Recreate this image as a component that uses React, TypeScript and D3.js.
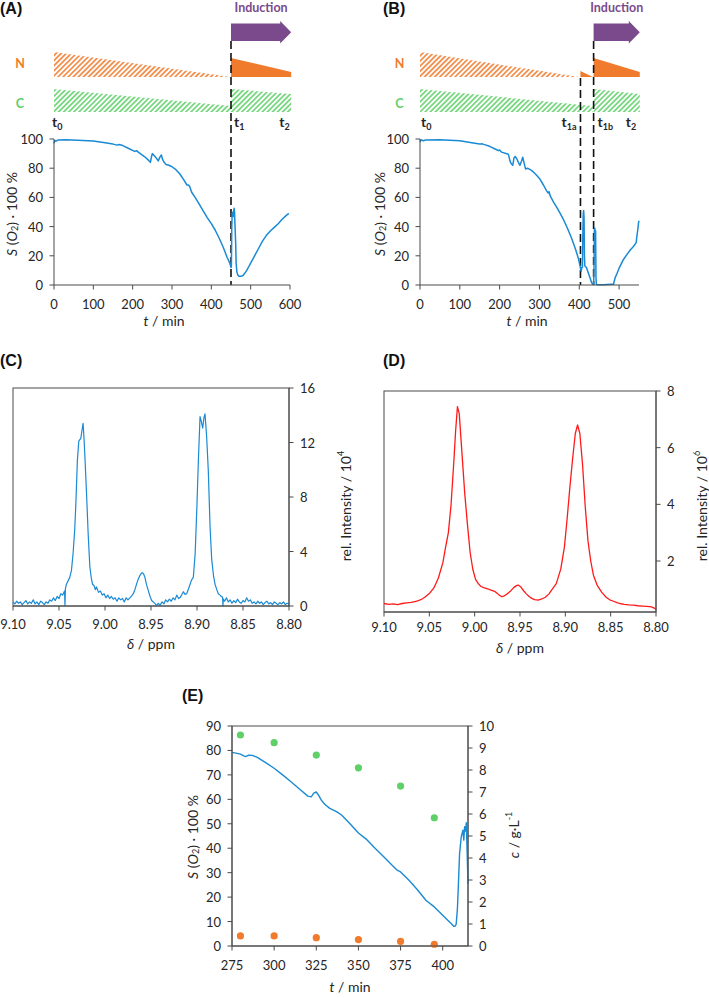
import React from 'react';
import * as d3 from 'd3';

const FONT = 'Lato, "Open Sans", "DejaVu Sans", sans-serif';
const HEAD = '"Liberation Sans", Arial, sans-serif';
const BLUE = '#1a8ad4';
const RED = '#ff1a1a';
const ORANGE = '#f07b2c';
const GREEN = '#5fcf68';
const PURPLE = '#7b4a8c';
const AXIS = '#4a4a4a';
const TEXT = '#262626';

// ---------- tick labels ----------
const timeTicksA = [0, 100, 200, 300, 400, 500, 600];
const timeTicksB = [0, 100, 200, 300, 400, 500];
const satTicks = [0, 20, 40, 60, 80, 100];
const ppmTicks = [9.1, 9.05, 9.0, 8.95, 8.9, 8.85, 8.8];
const intensityTicksC = [0, 4, 8, 12, 16];
const intensityTicksD = [2, 4, 6, 8];
const timeTicksE = [275, 300, 325, 350, 375, 400];
const satTicksE = [0, 10, 20, 30, 40, 50, 60, 70, 80, 90];
const concTicksE = [0, 1, 2, 3, 4, 5, 6, 7, 8, 9, 10];

// ---------- schematic nutrient levels (relative) ----------
const nHatchA: [number, number][] = [[0, 1], [450, 0]];
const nSolidA: [number, number][] = [[450, 0.76], [603, 0.2]];
const cHatchA1: [number, number][] = [[0, 1], [450, 0.26]];
const cHatchA2: [number, number][] = [[450, 1], [603, 0.78]];
const inductionA = [450, 603];

const nHatchB: [number, number][] = [[0, 1], [400, 0]];
const nPulseB: [number, number][] = [[403, 0.24], [434, 0]];
const nSolidB: [number, number][] = [[436, 0.76], [552, 0.2]];
const cHatchB1: [number, number][] = [[0, 1], [434, 0.26]];
const cHatchB2: [number, number][] = [[436, 1], [552, 0.78]];
const inductionB = [436, 552];
const t1aB = 403;

// ---------- (A) dissolved oxygen ----------
const curveA: [number, number][] = [
  [0, 97], [2, 99], [5, 98.5], [10, 99.3], [30, 99.5], [60, 99.2], [100, 98.6], [130, 97.5],
  [150, 96.5], [160, 95.8], [165, 96.2], [175, 95.5], [190, 93.5], [205, 91.5], [210, 92],
  [215, 90.8], [230, 88], [240, 85.5], [245, 84], [248, 88], [250, 90], [255, 88.5], [260, 87],
  [265, 85], [270, 88], [273, 89], [276, 86], [280, 84], [285, 82.5], [292, 82], [300, 81],
  [310, 79], [320, 76], [330, 72], [338, 68.5], [342, 68.5], [345, 67.5], [350, 63.5], [360, 59.5],
  [370, 55], [380, 50.5], [390, 46], [400, 42], [410, 37.5], [420, 32], [430, 26], [440, 19],
  [447, 15], [450, 12], [451, 13], [452, 40], [453, 49], [455, 50], [456, 47], [457, 51],
  [458, 52.5], [459, 50], [460, 42], [462, 28], [463, 15], [465, 9], [467, 7], [470, 6],
  [475, 6], [480, 6.3], [485, 8], [490, 10], [495, 12.5], [500, 15], [510, 20], [520, 25],
  [530, 30], [540, 34], [550, 37], [560, 39.5], [570, 42], [580, 45], [590, 47.5], [597, 49],
];

// ---------- (B) dissolved oxygen ----------
const curveB: [number, number][] = [
  [0, 98], [2, 99.5], [8, 98.8], [15, 99.3], [50, 99.5], [100, 98.8], [130, 97.5], [150, 96.5],
  [155, 96.8], [160, 96.3], [175, 95], [190, 93], [197, 92], [200, 92.5], [205, 91], [222, 89.5],
  [226, 85], [229, 83], [233, 82], [236, 87], [239, 88], [243, 86.5], [247, 84], [251, 82],
  [255, 85], [258, 87.5], [261, 84], [265, 79.5], [270, 80], [280, 78.5], [290, 76], [300, 73],
  [310, 68.5], [318, 64.5], [322, 63], [324, 64], [327, 61], [335, 57], [345, 52.5], [352, 49],
  [360, 45], [370, 39], [380, 32.5], [390, 25], [398, 18], [402, 13], [404, 10], [405, 9.5],
  [406, 12], [408, 12], [409, 35], [410, 49], [411, 51], [412, 46], [413, 20], [414, 13],
  [418, 12], [423, 8], [427, 5], [431, 1.5], [434, 0.5], [436, 0.3], [437, 10], [438, 38],
  [439, 39], [440, 36], [441, 37], [442, 5], [443, 0.3], [450, 0.2], [460, 0.1], [470, 0.3],
  [480, 0.5], [486, 0.5], [490, 5], [495, 8], [500, 11.5], [511, 17.5], [520, 21], [528, 24],
  [535, 26], [543, 29], [544, 32], [547, 38], [549, 43], [550, 44],
];

// ---------- (C) spectrum ----------
const spectrumC: [number, number][] = [
  [9.1, 0.3], [9.098, 0.15], [9.096, 0.35], [9.094, 0.2], [9.092, 0.3], [9.09, 0.1], [9.088, 0.25],
  [9.086, 0.4], [9.084, 0.15], [9.082, 0.3], [9.08, 0.2], [9.078, 0.45], [9.076, 0.15], [9.074, 0.3],
  [9.072, 0.1], [9.07, 0.35], [9.068, 0.25], [9.066, 0.1], [9.064, 0.3], [9.062, 0.2], [9.06, 0.45],
  [9.058, 0.35], [9.056, 0.6], [9.054, 0.4], [9.052, 0.7], [9.05, 0.55], [9.048, 0.9], [9.046, 0.8],
  [9.044, 1.1], [9.0435, 0], [9.043, 1.3], [9.0419, 1.6], [9.0383, 2.1], [9.0365, 2.6], [9.0347, 3.85],
  [9.033, 5.5], [9.0318, 7.3], [9.03, 10.7], [9.0285, 12.1], [9.0263, 12.3], [9.025, 12.9],
  [9.0238, 13.4], [9.0229, 12.4], [9.022, 11.2], [9.0201, 8.3], [9.0183, 5.3], [9.0165, 2.9],
  [9.015, 2.1], [9.0136, 1.6], [9.012, 1.5], [9.0105, 1.2], [9.0093, 1.4], [9.007, 1.0], [9.005, 1.1],
  [9.003, 0.8], [9.001, 0.9], [8.999, 0.6], [8.997, 0.8], [8.995, 0.55], [8.993, 0.7], [8.991, 0.5],
  [8.989, 0.6], [8.987, 0.35], [8.985, 0.6], [8.983, 0.45], [8.981, 0.55], [8.979, 0.3], [8.977, 0.6],
  [8.975, 0.45], [8.973, 0.6], [8.971, 0.75], [8.9693, 0.9], [8.9675, 1.2], [8.9657, 1.6], [8.964, 1.95],
  [8.962, 2.25], [8.9605, 2.4], [8.9595, 2.45], [8.958, 2.35], [8.9566, 2.1], [8.955, 1.6], [8.953, 1.15],
  [8.951, 0.7], [8.9493, 0.4], [8.9475, 0.3], [8.9457, 0.17], [8.944, 0.05], [8.942, 0.2], [8.9402, 0.05],
  [8.938, 0.3], [8.936, 0.15], [8.934, 0.45], [8.932, 0.3], [8.93, 0.5], [8.928, 0.35], [8.926, 0.6],
  [8.924, 0.45], [8.922, 0.8], [8.92, 0.55], [8.918, 0.65], [8.916, 0.9], [8.9148, 1.05], [8.913, 0.85],
  [8.9112, 0.9], [8.909, 1.3], [8.9075, 1.6], [8.906, 1.9], [8.904, 2.1], [8.902, 3.85], [8.9, 7.5],
  [8.8985, 10.7], [8.8967, 13.9], [8.8955, 13.6], [8.8938, 13.05], [8.8925, 13.8], [8.8913, 14.1],
  [8.8895, 12.4], [8.8877, 9.9], [8.8858, 5.8], [8.884, 3.4], [8.882, 2.2], [8.8804, 1.6], [8.8785, 1.2],
  [8.8768, 0.9], [8.875, 0.8], [8.8735, 0.7], [8.8722, 0.65], [8.8718, 0], [8.8714, 0.5], [8.87, 0.35],
  [8.868, 0.6], [8.866, 0.3], [8.864, 0.45], [8.862, 0.2], [8.86, 0.4], [8.858, 0.25], [8.856, 0.5],
  [8.854, 0.3], [8.852, 0.2], [8.85, 0.4], [8.848, 0.3], [8.846, 0.6], [8.844, 0.35], [8.842, 0.45],
  [8.84, 0.2], [8.838, 0.3], [8.836, 0.15], [8.834, 0.35], [8.832, 0.2], [8.83, 0.3], [8.828, 0.1],
  [8.826, 0.25], [8.824, 0.35], [8.822, 0.15], [8.82, 0.25], [8.818, 0.1], [8.816, 0.3], [8.814, 0.2],
  [8.812, 0.1], [8.81, 0.25], [8.808, 0.15], [8.806, 0.3], [8.804, 0.1], [8.802, 0.2], [8.8, 0.15],
];

// ---------- (D) spectrum ----------
const spectrumD: [number, number][] = [
  [9.1, 0.5], [9.095, 0.47], [9.09, 0.49], [9.085, 0.46], [9.08, 0.5], [9.075, 0.52], [9.07, 0.54],
  [9.066, 0.57], [9.062, 0.6], [9.058, 0.66], [9.055, 0.72], [9.05, 0.85], [9.045, 1.05], [9.04, 1.4],
  [9.035, 1.95], [9.032, 2.5], [9.029, 3.0], [9.026, 4.0], [9.023, 5.5], [9.021, 6.6], [9.019, 7.45],
  [9.017, 7.2], [9.014, 5.8], [9.011, 4.4], [9.008, 3.3], [9.005, 2.3], [9.002, 1.7], [8.999, 1.35],
  [8.996, 1.2], [8.993, 1.1], [8.99, 1.06], [8.986, 1.02], [8.982, 0.97], [8.978, 0.93], [8.975, 0.85],
  [8.973, 0.8], [8.97, 0.74], [8.968, 0.76], [8.965, 0.82], [8.961, 0.92], [8.957, 1.06], [8.954, 1.13],
  [8.952, 1.15], [8.949, 1.08], [8.946, 0.95], [8.943, 0.84], [8.94, 0.75], [8.937, 0.68], [8.934, 0.64],
  [8.93, 0.62], [8.926, 0.66], [8.922, 0.72], [8.918, 0.84], [8.915, 0.98], [8.91, 1.2], [8.905, 1.72],
  [8.901, 2.5], [8.898, 3.5], [8.895, 4.6], [8.892, 5.6], [8.889, 6.5], [8.8865, 6.8], [8.884, 6.5],
  [8.881, 5.4], [8.878, 3.9], [8.875, 2.7], [8.872, 2.0], [8.869, 1.5], [8.865, 1.15], [8.86, 0.9],
  [8.855, 0.72], [8.851, 0.63], [8.847, 0.58], [8.843, 0.53], [8.84, 0.5], [8.835, 0.47], [8.83, 0.45],
  [8.825, 0.44], [8.82, 0.42], [8.815, 0.41], [8.81, 0.4], [8.805, 0.38], [8.802, 0.34], [8.8, 0.3],
];

// ---------- (E) ----------
const curveE: [number, number][] = [
  [275, 79.2], [278, 78.8], [280, 78.5], [282, 77.8], [283, 77.5], [285, 78.1], [287, 78], [290, 77.2],
  [295, 75], [300, 72.7], [305, 70], [310, 67.2], [315, 64.2], [320, 61.3], [322, 61], [323.5, 62.5],
  [325, 63], [326.5, 61.5], [328, 59.7], [330, 58], [333, 56.3], [337, 55], [340, 53.6], [345, 50],
  [350, 46.2], [355, 43.5], [360, 39.9], [365, 36.5], [370, 33], [373, 31], [375, 30.3], [380, 26.9],
  [385, 23], [390, 18.7], [395, 16], [400, 12.6], [403, 10.5], [405, 9.2], [406.5, 8.1], [407.5, 8.2],
  [408, 9], [408.7, 15], [409.3, 25], [410, 37.8], [411, 44.7], [412, 47.4], [412.5, 43.3], [413, 48.8],
  [413.6, 47], [414, 50.4], [414.5, 37.8], [415, 25.5],
];
const sampleTimesE = [280, 300, 325, 350, 375, 395];
const carbonE = [9.59, 9.24, 8.68, 8.1, 7.27, 5.83];
const nitrogenE = [0.46, 0.46, 0.38, 0.29, 0.21, 0.08];

type Sc = d3.ScaleLinear<number, number>;

function VAxis({ scale, ticks, x, side, fmt, label = true }: { scale: Sc; ticks: number[]; x: number; side: number; fmt?: (d: number) => string; label?: boolean }) {
  const [r0, r1] = scale.range();
  return (
    <g>
      <line x1={x} x2={x} y1={r0} y2={r1} stroke={AXIS} strokeWidth={1} />
      {ticks.map((t) => (
        <g key={t}>
          <line x1={x} x2={x + side * 4.5} y1={scale(t)} y2={scale(t)} stroke={AXIS} strokeWidth={1} />
          {label && (
            <text x={x + side * 11} y={scale(t)} dominantBaseline="central" textAnchor={side < 0 ? 'end' : 'start'} fontFamily={FONT} fontSize={13} fill={TEXT}>
              {fmt ? fmt(t) : String(t)}
            </text>
          )}
        </g>
      ))}
    </g>
  );
}

function HAxis({ scale, ticks, y, fmt, labelY }: { scale: Sc; ticks: number[]; y: number; fmt?: (d: number) => string; labelY: number }) {
  const [r0, r1] = scale.range();
  return (
    <g>
      <line x1={r0} x2={r1} y1={y} y2={y} stroke={AXIS} strokeWidth={1} />
      {ticks.map((t) => (
        <g key={t}>
          <line x1={scale(t)} x2={scale(t)} y1={y} y2={y + 4.5} stroke={AXIS} strokeWidth={1} />
          <text x={scale(t)} y={labelY} textAnchor="middle" fontFamily={FONT} fontSize={13} fill={TEXT}>
            {fmt ? fmt(t) : String(t)}
          </text>
        </g>
      ))}
    </g>
  );
}

function SatTitle({ x, y }: { x: number; y: number }) {
  return (
    <text transform={`translate(${x},${y}) rotate(-90)`} textAnchor="middle" dominantBaseline="central" fontFamily={FONT} fontSize={14} fill={TEXT}>
      <tspan fontStyle="italic">S</tspan> (<tspan fontStyle="italic">O</tspan>
      <tspan fontSize={9} dy={3}>2</tspan>
      <tspan dy={-3}>) · 100 %</tspan>
    </text>
  );
}

function TimeTitle({ x, y }: { x: number; y: number }) {
  return (
    <text x={x} y={y} textAnchor="middle" fontFamily={FONT} fontSize={14} fill={TEXT}>
      <tspan fontStyle="italic">t</tspan> / min
    </text>
  );
}

function PpmTitle({ x, y }: { x: number; y: number }) {
  return (
    <text x={x} y={y} textAnchor="middle" fontFamily={FONT} fontSize={14} fill={TEXT}>
      <tspan fontStyle="italic">δ</tspan> / ppm
    </text>
  );
}

function IntTitle({ x, y, exp }: { x: number; y: number; exp: string }) {
  return (
    <text transform={`translate(${x},${y}) rotate(-90)`} textAnchor="middle" dominantBaseline="central" fontFamily={FONT} fontSize={14} fill={TEXT}>
      rel. Intensity / 10<tspan fontSize={9} dy={-5}>{exp}</tspan>
    </text>
  );
}

function TLabel({ x, y, sub, anchor = 'start' }: { x: number; y: number; sub: string; anchor?: string }) {
  return (
    <text x={x} y={y} textAnchor={anchor as any} fontFamily={FONT} fontWeight="bold" fontSize={14} fill={TEXT}>
      t<tspan fontSize={9} dy={3}>{sub}</tspan>
    </text>
  );
}

function PanelTag({ x, y, s }: { x: number; y: number; s: string }) {
  return (
    <text x={x} y={y} fontFamily={HEAD} fontWeight="bold" fontSize={16} fill="#111">{s}</text>
  );
}

function Arrow({ x0, x1, label }: { x0: number; x1: number; label: boolean }) {
  const top = 23.5, bot = 41, htop = 21, hbot = 43.5, hl = 11;
  const mid = (top + bot) / 2;
  const d = `M${x0},${top}L${x1 - hl},${top}L${x1 - hl},${htop}L${x1},${mid}L${x1 - hl},${hbot}L${x1 - hl},${bot}L${x0},${bot}Z`;
  return (
    <g>
      <path d={d} fill={PURPLE} />
      {label && (
        <text x={(x0 + x1) / 2} y={12} textAnchor="middle" fontFamily={FONT} fontWeight="bold" fontSize={12.5} fill={PURPLE}>
          Induction
        </text>
      )}
    </g>
  );
}

export default function App() {
  const xA = d3.scaleLinear().domain([0, 600]).range([54, 290]);
  const yA = d3.scaleLinear().domain([0, 100]).range([285, 139]);
  const xB = d3.scaleLinear().domain([0, 550]).range([420, 639]);
  const yB = d3.scaleLinear().domain([0, 100]).range([285, 139]);
  const yN = d3.scaleLinear().domain([0, 1]).range([77, 52]);
  const yCn = d3.scaleLinear().domain([0, 1]).range([112, 89]);

  const xC = d3.scaleLinear().domain([9.1, 8.8]).range([13, 289]);
  const yC = d3.scaleLinear().domain([0, 16]).range([606, 388]);
  const xD = d3.scaleLinear().domain([9.1, 8.8]).range([384, 656]);
  const yD = d3.scaleLinear().domain([0.2, 8]).range([612, 391]);

  const xE = d3.scaleLinear().domain([275, 415]).range([232, 468]);
  const yEl = d3.scaleLinear().domain([0, 90]).range([946, 726]);
  const yEr = d3.scaleLinear().domain([0, 10]).range([946, 726]);

  const areaN = (xs: Sc) => d3.area<[number, number]>().x((d) => xs(d[0])).y0(yN(0)).y1((d) => yN(d[1]));
  const areaC = (xs: Sc) => d3.area<[number, number]>().x((d) => xs(d[0])).y0(yCn(0)).y1((d) => yCn(d[1]));
  const lineOf = (xs: Sc, ys: Sc) => d3.line<[number, number]>().x((d) => xs(d[0])).y((d) => ys(d[1]));
  const fmt2 = (d: number) => d.toFixed(2);

  return (
    <svg width={709} height={998} style={{ position: 'absolute', left: 0, top: 0, background: '#fff' }}>
      <defs>
        <pattern id="hatchN" patternUnits="userSpaceOnUse" width={3.6} height={3.6} patternTransform="rotate(45)">
          <line x1={1.8} y1={0} x2={1.8} y2={3.6} stroke={ORANGE} strokeWidth={1.5} />
        </pattern>
        <pattern id="hatchC" patternUnits="userSpaceOnUse" width={3.6} height={3.6} patternTransform="rotate(45)">
          <line x1={1.8} y1={0} x2={1.8} y2={3.6} stroke={GREEN} strokeWidth={1.5} />
        </pattern>
      </defs>
      <rect x={0} y={0} width={709} height={998} fill="#fff" />

      {/* ================= (A) ================= */}
      <PanelTag x={0} y={14} s="(A)" />
      <Arrow x0={xA(inductionA[0])} x1={xA(inductionA[1])} label />
      <text x={20} y={68} textAnchor="middle" fontFamily={FONT} fontWeight="bold" fontSize={12.5} fill={ORANGE}>N</text>
      <text x={20} y={108} textAnchor="middle" fontFamily={FONT} fontWeight="bold" fontSize={12.5} fill={GREEN}>C</text>
      <path d={areaN(xA)(nHatchA) || ''} fill="url(#hatchN)" />
      <path d={areaN(xA)(nSolidA) || ''} fill={ORANGE} />
      <path d={areaC(xA)(cHatchA1) || ''} fill="url(#hatchC)" />
      <path d={areaC(xA)(cHatchA2) || ''} fill="url(#hatchC)" />
      <TLabel x={xA(0) - 2} y={127} sub="0" />
      <TLabel x={xA(inductionA[0]) + 3} y={127} sub="1" />
      <TLabel x={xA(inductionA[1]) - 12} y={127} sub="2" />
      <line x1={xA(450)} x2={xA(450)} y1={41} y2={yA(0)} stroke="#111" strokeWidth={1.6} strokeDasharray="8,4" />
      <path d={lineOf(xA, yA)(curveA) || ''} fill="none" stroke={BLUE} strokeWidth={1.5} strokeLinejoin="round" />
      <VAxis scale={yA} ticks={satTicks} x={xA(0)} side={-1} />
      <HAxis scale={xA} ticks={timeTicksA} y={yA(0)} labelY={309} />
      <SatTitle x={11} y={214} />
      <TimeTitle x={164} y={326} />

      {/* ================= (B) ================= */}
      <PanelTag x={383} y={14} s="(B)" />
      <Arrow x0={xB(inductionB[0])} x1={xB(inductionB[1])} label />
      <text x={399.5} y={68} textAnchor="middle" fontFamily={FONT} fontWeight="bold" fontSize={12.5} fill={ORANGE}>N</text>
      <text x={399.5} y={108} textAnchor="middle" fontFamily={FONT} fontWeight="bold" fontSize={12.5} fill={GREEN}>C</text>
      <path d={areaN(xB)(nHatchB) || ''} fill="url(#hatchN)" />
      <path d={areaN(xB)(nPulseB) || ''} fill={ORANGE} />
      <path d={areaN(xB)(nSolidB) || ''} fill={ORANGE} />
      <path d={areaC(xB)(cHatchB1) || ''} fill="url(#hatchC)" />
      <path d={areaC(xB)(cHatchB2) || ''} fill="url(#hatchC)" />
      <TLabel x={xB(0) + 1} y={127} sub="0" />
      <TLabel x={xB(t1aB) - 4} y={127} sub="1a" anchor="end" />
      <TLabel x={xB(inductionB[0]) + 4} y={127} sub="1b" />
      <TLabel x={xB(inductionB[1]) - 14} y={127} sub="2" />
      <line x1={xB(t1aB)} x2={xB(t1aB)} y1={78} y2={yB(0)} stroke="#111" strokeWidth={1.6} strokeDasharray="8,4" />
      <line x1={xB(inductionB[0])} x2={xB(inductionB[0])} y1={41} y2={yB(0)} stroke="#111" strokeWidth={1.6} strokeDasharray="8,4" />
      <path d={lineOf(xB, yB)(curveB) || ''} fill="none" stroke={BLUE} strokeWidth={1.5} strokeLinejoin="round" />
      <VAxis scale={yB} ticks={satTicks} x={xB(0)} side={-1} />
      <HAxis scale={xB} ticks={timeTicksB} y={yB(0)} labelY={309} />
      <SatTitle x={379} y={214} />
      <TimeTitle x={527} y={326} />

      {/* ================= (C) ================= */}
      <PanelTag x={0} y={366} s="(C)" />
      <rect x={13} y={388} width={289 - 13} height={606 - 388} fill="none" stroke={AXIS} strokeWidth={1} />
      <path d={lineOf(xC, yC)(spectrumC) || ''} fill="none" stroke={BLUE} strokeWidth={1.2} strokeLinejoin="round" />
      <VAxis scale={yC} ticks={intensityTicksC} x={289} side={1} />
      <HAxis scale={xC} ticks={ppmTicks} y={606} fmt={fmt2} labelY={629} />
      <IntTitle x={345} y={506} exp="4" />
      <PpmTitle x={151} y={649} />

      {/* ================= (D) ================= */}
      <PanelTag x={383} y={366} s="(D)" />
      <rect x={384} y={391} width={656 - 384} height={612 - 391} fill="none" stroke={AXIS} strokeWidth={1} />
      <path d={lineOf(xD, yD)(spectrumD) || ''} fill="none" stroke={RED} strokeWidth={1.3} strokeLinejoin="round" />
      <VAxis scale={yD} ticks={intensityTicksD} x={656} side={1} />
      <HAxis scale={xD} ticks={ppmTicks} y={612} fmt={fmt2} labelY={632} />
      <IntTitle x={701} y={506} exp="6" />
      <PpmTitle x={520} y={653} />

      {/* ================= (E) ================= */}
      <PanelTag x={182} y={701} s="(E)" />
      <rect x={232} y={726} width={468 - 232} height={946 - 726} fill="none" stroke={AXIS} strokeWidth={1} />
      {sampleTimesE.map((t, i) => (
        <circle key={'c' + t} cx={xE(t)} cy={yEr(carbonE[i])} r={3.6} fill={GREEN} />
      ))}
      {sampleTimesE.map((t, i) => (
        <circle key={'n' + t} cx={xE(t)} cy={yEr(nitrogenE[i])} r={3.6} fill={ORANGE} />
      ))}
      <path d={lineOf(xE, yEl)(curveE) || ''} fill="none" stroke={BLUE} strokeWidth={1.4} strokeLinejoin="round" />
      <VAxis scale={yEl} ticks={satTicksE} x={232} side={-1} />
      <VAxis scale={yEr} ticks={concTicksE} x={468} side={1} />
      <HAxis scale={xE} ticks={timeTicksE} y={946} labelY={970} />
      <SatTitle x={192} y={837} />
      <text transform={`translate(513,835) rotate(-90)`} textAnchor="middle" dominantBaseline="central" fontFamily={FONT} fontSize={14} fill={TEXT}>
        <tspan fontStyle="italic">c</tspan> / g·L<tspan fontSize={9} dy={-5}>-1</tspan>
      </text>
      <TimeTitle x={350} y={992} />
    </svg>
  );
}
